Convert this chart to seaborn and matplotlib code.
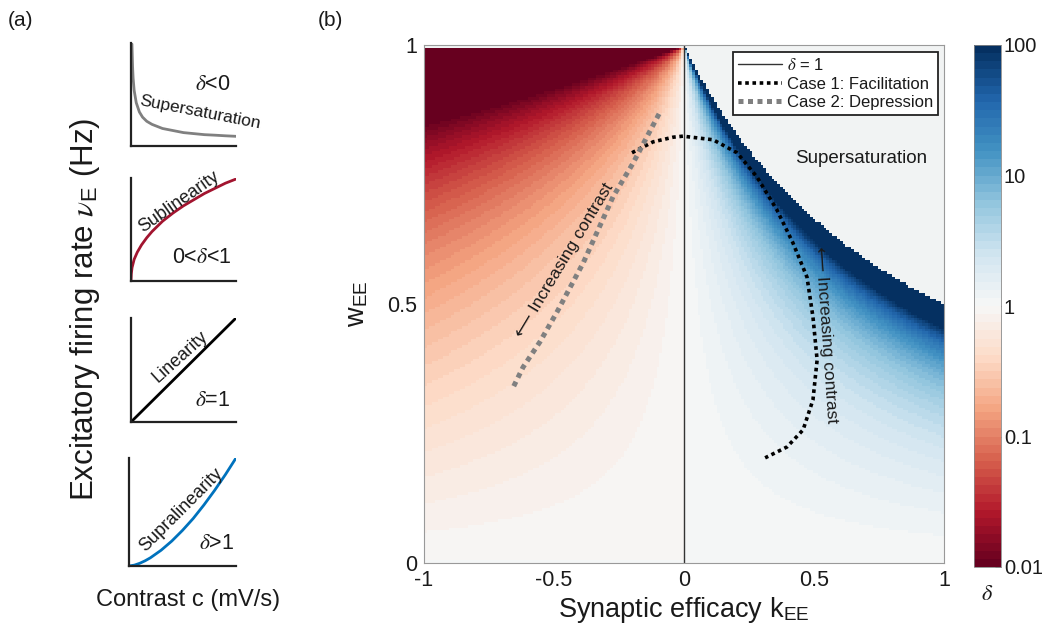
import numpy as np
import pandas as pd
import matplotlib
import matplotlib.pyplot as plt
import seaborn as sns
from matplotlib.colors import LogNorm

# ---- panel (a): schematic input/output curves (normalised axes) ----
super_c = [0.009, 0.015, 0.02, 0.03, 0.05, 0.08, 0.11, 0.15, 0.2, 0.3, 0.4, 0.5, 0.6, 0.7, 0.8, 0.9, 1.0]
super_nu = [0.99, 0.77, 0.66, 0.54, 0.42, 0.33, 0.28, 0.24, 0.21, 0.17, 0.15, 0.13, 0.12, 0.11, 0.105, 0.099, 0.094]
sub_c = [0.0, 0.003, 0.01, 0.03, 0.06, 0.1, 0.15, 0.2, 0.3, 0.4, 0.5, 0.6, 0.7, 0.8, 0.9, 1.0]
sub_nu = [0.0, 0.07, 0.13, 0.21, 0.28, 0.35, 0.42, 0.48, 0.58, 0.66, 0.73, 0.79, 0.85, 0.90, 0.95, 0.99]
lin_c = [0.0, 1.0]
lin_nu = [0.0, 1.0]
supra_c = [0.0, 0.05, 0.1, 0.15, 0.2, 0.3, 0.4, 0.5, 0.6, 0.7, 0.8, 0.9, 1.0]
supra_nu = [0.0, 0.008, 0.025, 0.048, 0.076, 0.146, 0.231, 0.33, 0.44, 0.565, 0.70, 0.845, 1.0]

# ---- panel (b): delta map over (k_EE, w_EE) ----
n_k, n_w = 190, 190
k_grid = np.linspace(-1, 1, n_k)
w_grid = np.linspace(0, 1, n_w)
exp_dep = 2.4   # exponent
exp_fac = 2.6   # exponent

# trajectories with increasing contrast
fac_k = [-0.2, -0.119, -0.042, -0.004, 0.112, 0.204, 0.281, 0.358, 0.419, 0.473, 0.496, 0.512, 0.496, 0.458, 0.396, 0.312]
fac_w = [0.792, 0.813, 0.822, 0.824, 0.817, 0.792, 0.745, 0.681, 0.618, 0.552, 0.475, 0.392, 0.315, 0.257, 0.224, 0.203]
dep_k = [-0.096, -0.196, -0.273, -0.388, -0.488, -0.554, -0.619, -0.662]
dep_w = [0.867, 0.772, 0.707, 0.579, 0.485, 0.427, 0.378, 0.334]
one_k = [0.0, 0.0]
one_w = [0.0, 1.0]

cbar_ticks = [0.01, 0.1, 1, 10, 100]
cbar_labels = ["0.01", "0.1", "1", "10", "100"]

sns.set_theme(style="white")
plt.rcParams["font.family"] = ["Liberation Sans", "DejaVu Sans"]
plt.rcParams["mathtext.fontset"] = "stix"
ink = "#1a1a1a"
plt.rcParams.update({"text.color": ink, "axes.labelcolor": ink,
                     "xtick.color": ink, "ytick.color": ink})

W, H = 1045, 634
fig = plt.figure(figsize=(W / 100, H / 100), dpi=100)


def rect(x0, y0, x1, y1):
    return [x0 / W, 1 - y1 / H, (x1 - x0) / W, (y1 - y0) / H]


# ---------------- panel (a) ----------------
mini = [
    (rect(131, 43, 236, 146), super_c, super_nu, "#808080"),
    (rect(131, 178, 236, 281), sub_c, sub_nu, "#a2142f"),
    (rect(131, 318, 236, 422), lin_c, lin_nu, "black"),
    (rect(129, 458, 236, 566), supra_c, supra_nu, "#0072bd"),
]
mini_axes = []
for r, xs, ys, col in mini:
    a = fig.add_axes(r)
    sns.lineplot(x=xs, y=ys, ax=a, color=col, lw=2, sort=False, estimator=None)
    a.set_xlim(0, 1)
    a.set_ylim(0, 1.0)
    a.set_xticks([])
    a.set_yticks([])
    for s in ["top", "right"]:
        a.spines[s].set_visible(False)
    for s in ["left", "bottom"]:
        a.spines[s].set_color("#222222")
        a.spines[s].set_linewidth(1.6)
    a.patch.set_alpha(0)
    mini_axes.append(a)

a1, a2, a3, a4 = mini_axes
a1.text(0.78, 0.6, r"$\delta$<0", transform=a1.transAxes, ha="center", va="center", fontsize=15.5)
a1.text(0.66, 0.33, "Supersaturation", transform=a1.transAxes, ha="center", va="center",
        fontsize=12.5, rotation=-11)
a2.text(0.46, 0.77, "Sublinearity", transform=a2.transAxes, ha="center", va="center",
        fontsize=13, rotation=35)
a2.text(0.68, 0.23, r"0<$\delta$<1", transform=a2.transAxes, ha="center", va="center", fontsize=15.5)
a3.text(0.47, 0.63, "Linearity", transform=a3.transAxes, ha="center", va="center",
        fontsize=13, rotation=42)
a3.text(0.78, 0.21, r"$\delta$=1", transform=a3.transAxes, ha="center", va="center", fontsize=15.5)
a4.text(0.49, 0.52, "Supralinearity", transform=a4.transAxes, ha="center", va="center",
        fontsize=13, rotation=45)
a4.text(0.82, 0.21, r"$\delta$>1", transform=a4.transAxes, ha="center", va="center", fontsize=15.5)

fig.text(85 / W, 1 - 309 / H, r"Excitatory firing rate $\nu_{\mathregular{E}}$ (Hz)",
         rotation=90, ha="center", va="center", fontsize=22.5)
fig.text(188 / W, 1 - 600 / H, "Contrast c (mV/s)", ha="center", va="center", fontsize=17)
fig.text(8 / W, 1 - 21 / H, "(a)", ha="left", va="center", fontsize=15)
fig.text(318 / W, 1 - 21 / H, "(b)", ha="left", va="center", fontsize=15)

# ---------------- panel (b) ----------------
K, Wg = np.meshgrid(k_grid, w_grid)
ratio = (1 - Wg) / (1 - Wg * (1 + K))
delta = np.where(K < 0, ratio ** exp_dep, np.abs(ratio) ** exp_fac)
delta = np.where(ratio < 0, np.nan, delta)
df = pd.DataFrame(delta[::-1], index=np.round(w_grid[::-1], 3), columns=np.round(k_grid, 3))

cmap = sns.color_palette("RdBu", as_cmap=True).resampled(64)
ax = fig.add_axes(rect(424, 45, 944, 563))
cax = fig.add_axes(rect(974, 45, 1001, 567))
ax.set_facecolor("#f1f3f3")
sns.heatmap(df, ax=ax, cmap=cmap, norm=LogNorm(vmin=0.01, vmax=100), cbar_ax=cax,
            xticklabels=False, yticklabels=False, rasterized=True, linewidths=0)
ax.set_xlabel("")
ax.set_ylabel("")
for s in ax.spines.values():
    s.set_visible(False)

cb = ax.collections[0].colorbar
cb.set_ticks(cbar_ticks)
cb.set_ticklabels(cbar_labels)
cb.minorticks_off()
cb.outline.set_linewidth(0.6)
cb.outline.set_edgecolor("#888888")
cax.tick_params(direction="in", length=4, width=0.6, color="#666666", labelsize=14.5, pad=2)
cax.set_xlabel(r"$\delta$", fontsize=16, labelpad=12)

ax2 = fig.add_axes(ax.get_position(), facecolor="none")
sns.lineplot(x=one_k, y=one_w, ax=ax2, color="#333333", lw=1, sort=False, estimator=None,
             label=r"$\delta$ = 1")
sns.lineplot(x=fac_k, y=fac_w, ax=ax2, color="black", lw=2.6, linestyle=(0, (1, 1)),
             sort=False, estimator=None, label="Case 1: Facilitation")
sns.lineplot(x=dep_k, y=dep_w, ax=ax2, color="#808080", lw=3.6, linestyle=(0, (1, 0.9)),
             sort=False, estimator=None, label="Case 2: Depression")
ax2.set_xlim(-1, 1)
ax2.set_ylim(0, 1)
ax2.set_xticks([-1, -0.5, 0, 0.5, 1])
ax2.set_xticklabels(["-1", "-0.5", "0", "0.5", "1"])
ax2.set_yticks([0, 0.5, 1])
ax2.set_yticklabels(["0", "0.5", "1"])
ax2.tick_params(length=0, labelsize=15.5, pad=5)
for s in ax2.spines.values():
    s.set_color("#999999")
    s.set_linewidth(0.8)
ax2.set_xlabel(r"Synaptic efficacy k$_{\mathregular{EE}}$", fontsize=19.5, labelpad=3)
ax2.set_ylabel(r"w$_{\mathregular{EE}}$", fontsize=19.5, labelpad=12)

leg = ax2.legend(loc="upper right", bbox_to_anchor=(0.988, 0.986), borderaxespad=0,
                 fontsize=12, frameon=True, fancybox=False, handlelength=2.6,
                 handletextpad=0.3, borderpad=0.3, labelspacing=0.2)
leg.get_frame().set_edgecolor("#222222")
leg.get_frame().set_linewidth(1.3)
leg.get_frame().set_facecolor("white")
leg.get_frame().set_alpha(1)

ax2.text(0.84, 0.78, "Supersaturation", transform=ax2.transAxes, ha="center", va="center",
         fontsize=13.5)
ax2.text(-0.46, 0.585, "\u27f5 Increasing contrast", ha="center", va="center",
         fontsize=12.5, rotation=59)
ax2.text(0.545, 0.44, "\u27f5 Increasing contrast", ha="center", va="center",
         fontsize=12.5, rotation=-86)

fig.savefig("out.png", dpi=100)
